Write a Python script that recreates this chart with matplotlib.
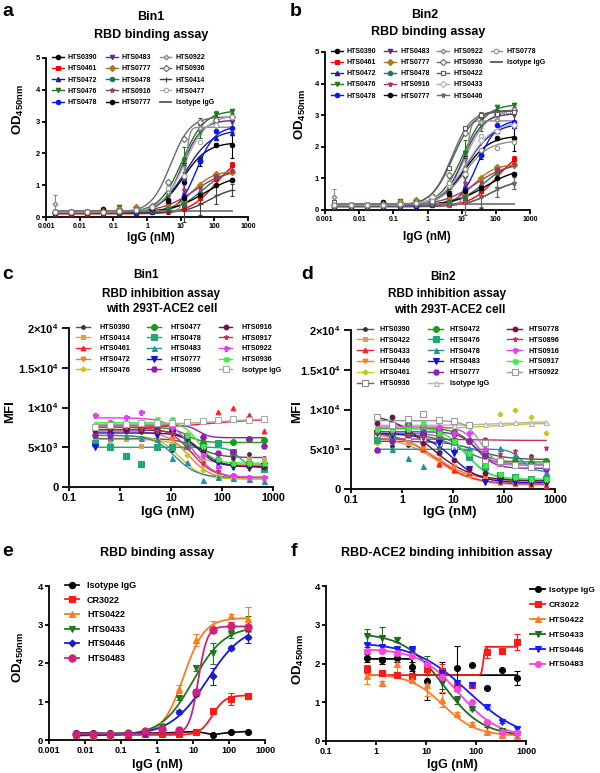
import numpy as np
import matplotlib
matplotlib.use('Agg')
import matplotlib.pyplot as plt
from matplotlib.lines import Line2D
from matplotlib.ticker import NullLocator

plt.rcParams['font.family'] = ['Liberation Sans', 'DejaVu Sans']
plt.rcParams['font.weight'] = 'bold'
plt.rcParams['mathtext.fontset'] = 'custom'
plt.rcParams['mathtext.rm'] = 'Liberation Sans:bold'
plt.rcParams['mathtext.it'] = 'Liberation Sans:bold'
plt.rcParams['mathtext.bf'] = 'Liberation Sans:bold'
plt.rcParams['axes.linewidth'] = 1.3

# ---------------------------------------------------------------- data
# panels a / b : RBD binding (OD450), 3-fold dilutions (nM)
conc_ab = [0.00188, 0.00564, 0.0169, 0.0508, 0.152, 0.457, 1.37, 4.12, 12.3, 37.0, 111.0, 333.0]

od_0390 = [0.15, 0.14, 0.15, 0.25, 0.20, 0.20, 0.24, 0.55, 1.10, 1.75, 2.27, 2.27]
od_0461 = [0.10, 0.10, 0.10, 0.12, 0.12, 0.14, 0.15, 0.20, 0.28, 0.60, 1.22, 1.62]
od_0472 = [0.12, 0.12, 0.13, 0.13, 0.15, 0.16, 0.20, 0.45, 1.25, 1.90, 2.50, 2.65]
od_0476 = [0.15, 0.15, 0.15, 0.16, 0.30, 0.25, 0.30, 0.70, 1.80, 2.70, 3.25, 3.32]
od_0478 = [0.12, 0.12, 0.12, 0.12, 0.12, 0.14, 0.15, 0.30, 0.65, 1.75, 2.70, 2.80]
od_0483 = [0.15, 0.15, 0.15, 0.16, 0.18, 0.22, 0.25, 0.50, 1.20, 2.90, 3.00, 3.00]
od_0777 = [0.15, 0.15, 0.15, 0.20, 0.25, 0.32, 0.30, 0.35, 0.50, 1.00, 1.35, 1.42]
od_0478b = [0.14, 0.14, 0.14, 0.15, 0.15, 0.18, 0.20, 0.25, 0.40, 0.75, 1.25, 1.15]
od_0916 = [0.15, 0.15, 0.15, 0.18, 0.20, 0.25, 0.30, 0.50, 0.85, 0.90, 1.30, 1.45]
od_0777b = [0.13, 0.13, 0.14, 0.20, 0.18, 0.18, 0.25, 0.50, 0.60, 0.70, 1.00, 1.15]
od_0922 = [0.40, 0.15, 0.15, 0.15, 0.18, 0.20, 0.30, 0.80, 1.30, 2.80, 2.85, 3.15]
od_0936 = [0.15, 0.15, 0.15, 0.15, 0.18, 0.22, 0.35, 1.10, 2.45, 3.00, 3.05, 3.15]
od_0414 = [0.12, 0.12, 0.12, 0.13, 0.14, 0.15, 0.18, 0.20, 0.25, 0.40, 0.70, 0.85]
od_0477 = [0.15, 0.15, 0.15, 0.16, 0.18, 0.22, 0.30, 0.90, 1.30, 2.35, 2.90, 3.15]
od_iso = [0.20, 0.20, 0.20, 0.20, 0.20, 0.20, 0.20, 0.20, 0.20, 0.20, 0.20, 0.20]
od_0422 = [0.25, 0.15, 0.15, 0.15, 0.18, 0.25, 0.45, 1.33, 2.60, 3.00, 3.05, 3.10]
od_0433 = [0.15, 0.15, 0.15, 0.15, 0.18, 0.22, 0.40, 0.80, 1.15, 2.20, 2.50, 2.70]
od_0446 = [0.12, 0.12, 0.12, 0.13, 0.14, 0.15, 0.18, 0.20, 0.25, 0.45, 0.70, 0.85]
od_0778 = [0.15, 0.15, 0.15, 0.16, 0.18, 0.22, 0.30, 0.85, 1.30, 1.90, 1.95, 2.15]

# error bars (SD) for the main binders, panels a/b
err_0390 = [0.03, 0.02, 0.02, 0.03, 0.02, 0.02, 0.05, 0.10, 0.60, 0.15, 0.05, 0.40]
err_0461 = [0.02, 0.02, 0.02, 0.02, 0.02, 0.02, 0.03, 0.05, 0.10, 0.15, 0.10, 0.10]
err_0476 = [0.02, 0.02, 0.02, 0.02, 0.05, 0.02, 0.05, 0.10, 0.40, 0.20, 0.08, 0.06]
err_0483 = [0.02, 0.02, 0.02, 0.02, 0.02, 0.02, 0.05, 0.10, 0.45, 0.20, 0.15, 0.20]
err_0922 = [0.28, 0.02, 0.02, 0.02, 0.02, 0.02, 0.05, 0.20, 0.30, 0.20, 0.20, 0.10]
err_0414 = [0.02, 0.02, 0.02, 0.02, 0.02, 0.02, 0.05, 0.10, 0.40, 0.35, 0.30, 0.20]

# fitted curve parameters (low-conc value, high-conc value, EC50 nM, hill)
fit_ab = {
    'HTS0390': (0.15, 2.35, 12, 1.2), 'HTS0461': (0.10, 2.0, 110, 1.1),
    'HTS0472': (0.12, 2.75, 14, 1.1), 'HTS0476': (0.15, 3.35, 11, 1.3),
    'HTS0478': (0.12, 2.85, 30, 1.6), 'HTS0483': (0.15, 3.05, 11, 1.5),
    'HTS0777': (0.15, 1.45, 22, 1.4), 'HTS0478b': (0.15, 1.55, 45, 1.1),
    'HTS0916': (0.15, 1.5, 25, 0.9), 'HTS0777b': (0.15, 1.35, 50, 0.9),
    'HTS0922': (0.2, 2.82, 14, 8.0), 'HTS0936': (0.15, 3.15, 5, 1.5),
    'HTS0414': (0.12, 0.95, 70, 1.2), 'HTS0477': (0.15, 3.2, 13, 1.3),
    'HTS0422': (0.15, 3.15, 5.5, 1.4), 'HTS0433': (0.15, 2.8, 14, 1.1),
    'HTS0446': (0.12, 0.95, 70, 1.2), 'HTS0778': (0.15, 2.2, 12, 1.2),
}

# panels c / d : MFI (x10^3), 2-fold dilutions (nM)
conc_cd = [0.325, 0.65, 1.3, 2.6, 5.2, 10.4, 20.8, 41.6, 83.3, 166.5, 333.0, 666.0]

c_0390 = [6.5, 6.2, 6.1, 6.2, 5.2, 4.7, 6.0, 4.5, 3.5, 3.7, 4.2, 3.7]
c_0414 = [5.8, 5.7, 6.0, 5.2, 6.0, 6.2, 5.0, 3.5, 2.6, 2.8, 3.5, 3.5]
c_0461 = [7.2, 7.4, 7.5, 7.3, 8.2, 7.6, 6.0, 6.5, 9.4, 10.0, 9.0, 7.0]
c_0472 = [6.8, 7.0, 7.0, 6.9, 6.5, 6.0, 5.0, 2.8, 1.8, 1.2, 1.1, 1.0]
c_0476 = [6.3, 6.5, 6.2, 6.0, 6.0, 5.3, 4.0, 2.2, 1.4, 1.1, 1.0, 1.0]
c_0477 = [7.5, 7.6, 7.6, 7.4, 7.2, 7.0, 6.0, 5.5, 5.5, 5.6, 6.0, 5.9]
c_0478 = [5.5, 5.0, 3.9, 2.9, 5.0, 5.0, 5.2, 5.0, 5.5, 4.4, 2.9, 2.3]
c_0483 = [6.5, 6.3, 6.4, 6.2, 6.0, 3.6, 3.2, 0.9, 1.3, 1.1, 1.0, 0.8]
c_0777 = [5.0, 6.5, 7.0, 7.0, 6.5, 6.8, 6.2, 4.5, 3.0, 2.5, 2.4, 2.6]
c_0896 = [6.6, 6.6, 7.2, 7.6, 7.6, 7.6, 8.2, 6.3, 4.3, 4.4, 6.0, 5.1]
c_0916 = [7.2, 7.3, 7.2, 7.0, 7.0, 7.0, 6.5, 4.5, 3.5, 3.0, 2.6, 2.5]
c_0917 = [7.5, 7.6, 7.5, 7.3, 7.0, 6.8, 5.0, 3.0, 2.0, 1.5, 1.2, 1.2]
c_0922 = [9.0, 8.2, 8.8, 9.4, 8.0, 7.5, 6.5, 4.0, 2.5, 1.5, 1.2, 1.2]
c_0936 = [7.8, 7.9, 8.0, 8.0, 8.6, 8.6, 6.6, 5.2, 3.5, 3.0, 3.0, 3.0]
c_iso = [7.5, 7.8, 7.9, 8.0, 8.0, 8.0, 8.2, 8.3, 8.4, 8.5, 8.4, 8.5]

fit_c = {
    'HTS0390': (6.1, 3.7, 35, 2), 'HTS0414': (6.0, 2.8, 25, 2),
    'HTS0461': (7.5, 8.5, 60, 1), 'HTS0472': (7.0, 1.0, 22, 2),
    'HTS0476': (6.5, 1.0, 15, 2), 'HTS0477': (7.5, 5.6, 20, 3),
    'HTS0478': (5.0, 2.4, 220, 4), 'HTS0483': (6.5, 1.2, 12, 2),
    'HTS0777': (6.8, 2.6, 35, 2.5), 'HTS0896': (7.8, 6.2, 35, 4),
    'HTS0916': (7.2, 2.5, 35, 2), 'HTS0917': (7.5, 1.2, 25, 2),
    'HTS0922': (8.7, 1.2, 25, 2), 'HTS0936': (8.1, 3.0, 35, 3),
    'Isotype IgG': (7.9, 8.6, 100, 1),
}

d_0390 = [6.0, 5.4, 5.5, 6.0, 5.3, 5.5, 4.8, 4.0, 3.6, 3.7, 4.2, 3.7]
d_0422 = [6.2, 6.0, 5.8, 4.9, 3.0, 2.3, 1.8, 1.2, 0.8, 0.6, 0.5, 0.5]
d_0433 = [7.0, 6.8, 6.6, 5.0, 3.1, 2.4, 2.0, 1.3, 1.0, 0.8, 0.6, 0.4]
d_0446 = [6.5, 6.4, 6.0, 5.1, 3.6, 2.8, 2.2, 1.5, 1.2, 1.0, 1.0, 1.0]
d_0461 = [5.8, 7.0, 6.5, 8.0, 8.4, 7.8, 7.0, 5.0, 9.4, 10.0, 9.0, 7.0]
d_0936 = [6.8, 6.6, 6.5, 6.2, 5.8, 5.2, 4.2, 3.6, 3.3, 3.2, 3.1, 3.2]
d_0472 = [7.2, 7.8, 8.2, 7.8, 7.6, 7.2, 6.0, 4.5, 3.6, 3.5, 3.3, 3.5]
d_0476 = [6.2, 6.8, 7.0, 7.0, 6.8, 6.0, 4.0, 2.8, 1.8, 1.5, 1.2, 1.2]
d_0478 = [5.0, 5.0, 3.9, 2.9, 5.0, 5.0, 5.2, 5.0, 5.2, 4.4, 2.9, 2.2]
d_0483 = [7.0, 6.8, 6.9, 6.6, 5.8, 4.5, 2.5, 0.9, 1.0, 0.9, 0.8, 0.8]
d_0777 = [4.9, 6.0, 6.8, 7.0, 7.2, 7.0, 6.0, 4.2, 3.4, 3.2, 2.9, 2.5]
d_iso = [7.8, 8.0, 8.0, 8.0, 8.0, 8.0, 8.2, 8.2, 8.3, 8.4, 8.3, 8.4]
d_0778 = [8.3, 9.0, 7.0, 5.8, 4.5, 3.6, 2.5, 2.0, 1.5, 1.3, 1.0, 1.0]
d_0896 = [7.0, 7.0, 6.8, 6.5, 6.5, 6.5, 8.2, 6.3, 4.4, 4.8, 4.0, 5.1]
d_0916 = [7.7, 7.5, 7.8, 7.9, 7.8, 7.0, 7.0, 5.0, 3.3, 3.2, 3.0, 2.9]
d_0917 = [7.5, 7.6, 7.6, 8.3, 7.0, 6.0, 4.5, 3.0, 1.9, 1.5, 1.2, 1.2]
d_0922 = [9.0, 8.0, 8.8, 9.4, 8.7, 8.6, 8.0, 5.8, 3.5, 3.0, 2.8, 3.0]

fit_d = {
    'HTS0390': (6.0, 3.7, 30, 1.5), 'HTS0422': (6.5, 0.5, 5, 1.2),
    'HTS0433': (7.2, 0.6, 4.5, 1.2), 'HTS0446': (7.0, 1.0, 4.5, 1.2),
    'HTS0461': (7.6, 8.3, 60, 1), 'HTS0936': (6.9, 3.1, 15, 1.5),
    'HTS0472': (7.6, 3.4, 25, 2.5), 'HTS0476': (7.0, 1.2, 20, 2),
    'HTS0478': (5.0, 2.2, 220, 4), 'HTS0483': (7.0, 0.8, 10, 1.6),
    'HTS0777': (7.2, 2.6, 30, 2.5), 'Isotype IgG': (8.0, 8.5, 100, 1),
    'HTS0778': (9.6, 1.0, 3.5, 1.1), 'HTS0896': (6.3, 6.1, 20, 1),
    'HTS0916': (7.8, 3.0, 30, 3), 'HTS0917': (7.7, 1.2, 18, 2),
    'HTS0922': (8.6, 3.0, 35, 3),
}

# panel e : RBD binding
conc_e = [0.00564, 0.0169, 0.0508, 0.152, 0.457, 1.37, 4.12, 12.3, 37.0, 111.0, 333.0]
e_iso = [0.18, 0.18, 0.17, 0.18, 0.18, 0.18, 0.20, 0.22, 0.14, 0.20, 0.22]
e_cr3022 = [0.12, 0.11, 0.11, 0.14, 0.15, 0.15, 0.16, 0.20, 0.75, 1.07, 1.15]
e_0422 = [0.12, 0.12, 0.14, 0.17, 0.22, 0.40, 1.32, 2.60, 2.95, 3.22, 3.13]
e_0433 = [0.12, 0.12, 0.12, 0.15, 0.20, 0.35, 1.10, 1.88, 2.25, 2.75, 2.92]
e_0446 = [0.12, 0.12, 0.12, 0.15, 0.18, 0.25, 0.73, 1.20, 1.65, 2.38, 2.67]
e_0483 = [0.16, 0.16, 0.16, 0.18, 0.23, 0.28, 0.27, 1.25, 2.85, 2.95, 2.93]
err_e_cr3022 = [0, 0, 0, 0, 0, 0, 0, 0.03, 0.05, 0.15, 0.08]
err_e_0422 = [0, 0, 0, 0, 0, 0.05, 0.10, 0.15, 0.15, 0.05, 0.33]
err_e_0433 = [0, 0, 0, 0, 0, 0, 0.05, 0.08, 0.28, 0.10, 0.30]
err_e_0446 = [0, 0, 0, 0, 0, 0, 0.05, 0.05, 0.22, 0.05, 0.15]
err_e_0483 = [0, 0, 0, 0, 0, 0, 0.05, 0.08, 0.08, 0.12, 0.05]
fit_e = {
    'CR3022': (0.13, 1.16, 35, 2.5), 'HTS0422': (0.13, 3.17, 5.5, 1.5),
    'HTS0433': (0.12, 2.95, 10, 1.0), 'HTS0446': (0.12, 3.0, 25, 0.85),
    'HTS0483': (0.16, 2.95, 14, 3.5),
}

# panel f : RBD-ACE2 binding inhibition
conc_f = [0.65, 1.3, 2.6, 5.2, 10.4, 20.8, 41.6, 83.3, 166.5, 333.0, 666.0]
f_iso = [2.15, 2.08, 2.13, 1.92, 1.55, 1.65, 1.88, 1.97, 1.38, 1.83, 1.62]
f_cr3022 = [1.85, 1.75, 1.70, 1.68, 1.87, 1.80, 1.42, 1.45, 2.30, 2.33, 2.55]
f_0422 = [1.68, 1.50, 1.98, 1.58, 1.45, 1.07, 0.70, 0.45, 0.23, 0.16, 0.14]
f_0433 = [2.70, 2.65, 2.60, 2.33, 1.95, 1.50, 1.05, 0.82, 0.40, 0.25, 0.18]
f_0446 = [2.47, 2.42, 2.38, 2.37, 1.98, 1.75, 1.50, 1.45, 0.88, 0.50, 0.30]
f_0483 = [2.33, 2.33, 2.28, 2.20, 2.00, 1.65, 1.35, 1.00, 0.50, 0.22, 0.20]
err_f_iso = [0.10, 0.10, 0.08, 0.12, 0.50, 0.40, 0.58, 0.0, 0.0, 0.0, 0.18]
err_f_cr3022 = [0.10, 0.08, 0.05, 0.05, 0.10, 0.20, 0.10, 0.0, 0.15, 0.0, 0.20]
err_f_0422 = [0.20, 0.05, 0.20, 0.05, 0.30, 0.20, 0.05, 0.03, 0.03, 0.03, 0.03]
err_f_0433 = [0.20, 0.28, 0.05, 0.05, 0.25, 0.15, 0.10, 0.03, 0.03, 0.03, 0.03]
err_f_0446 = [0.05, 0.05, 0.05, 0.05, 0.05, 0.05, 0.05, 0.03, 0.03, 0.03, 0.05]
err_f_0483 = [0.05, 0.05, 0.05, 0.05, 0.05, 0.05, 0.05, 0.03, 0.03, 0.03, 0.03]
fit_f = {
    'Isotype IgG': (2.12, 1.70, 5.5, 40), 'CR3022': (1.70, 2.43, 140, 25),
    'HTS0422': (1.73, 0.13, 22, 1.3), 'HTS0433': (2.78, 0.12, 22, 1.1),
    'HTS0446': (2.55, 0.0, 70, 0.8), 'HTS0483': (2.38, 0.10, 45, 1.1),
}

xt_ab = [0.001, 0.01, 0.1, 1, 10, 100, 1000]
xt_ab_lab = ['0.001', '0.01', '0.1', '1', '10', '100', '1000']
xt_cd = [0.1, 1, 10, 100, 1000]
xt_cd_lab = ['0.1', '1', '10', '100', '1000']
yt_cd = [0, 5, 10, 15, 20]
yt_cd_lab = ['0', '5×10$^{3}$', '1×10$^{4}$', '1.5×10$^{4}$', '2×10$^{4}$']

# ---------------------------------------------------------------- helpers
W, H = 600, 773
fig = plt.figure(figsize=(W / 100, H / 100), dpi=100)


def add_ax(l, t, r, b):
    return fig.add_axes([l / W, 1 - b / H, (r - l) / W, (b - t) / H])


def ftext(x, y, s, **kw):
    kw.setdefault('ha', 'center')
    kw.setdefault('va', 'center')
    kw.setdefault('fontweight', 'bold')
    fig.text(x / W, 1 - y / H, s, **kw)


def fourpl(x, y0, y1, ec50, hill):
    return y0 + (y1 - y0) / (1 + (ec50 / x) ** hill)


def style_ax(ax, xlim, ylim, xt, xtl, yt, ytl, fsx, fsy, ytl_len=3, ypad=1.5):
    ax.set_xscale('log')
    ax.set_xlim(*xlim)
    ax.set_ylim(*ylim)
    for s in ('top', 'right'):
        ax.spines[s].set_visible(False)
    ax.set_xticks(xt)
    ax.set_xticklabels(xtl, fontsize=fsx, fontweight='bold')
    ax.xaxis.set_minor_locator(NullLocator())
    ax.set_yticks(yt)
    ax.set_yticklabels(ytl, fontsize=fsy, fontweight='bold')
    ax.tick_params(axis='x', direction='out', length=3, width=1.3, pad=1.0)
    ax.tick_params(axis='y', direction='out', length=ytl_len, width=1.3, pad=ypad)
    ax.patch.set_alpha(0)


def draw_series(ax, conc, vals, fit, color, marker, ms, mfc=None, lw=1.0,
                err=None, lcolor=None, mew=0.8, cap=2.5):
    lc = lcolor or color
    if fit is not None:
        xs = np.logspace(np.log10(min(conc)), np.log10(max(conc)), 400)
        ax.plot(xs, fourpl(xs, *fit), color=lc, lw=lw, zorder=2)
    if marker is None:
        return Line2D([], [], color=lc, lw=lw + 0.3)
    if err is not None:
        ax.errorbar(conc, vals, yerr=err, fmt='none', ecolor=color, elinewidth=0.8,
                    capsize=cap, capthick=0.8, zorder=3, clip_on=False)
    ax.plot(conc, vals, ls='none', marker=marker, ms=ms, color=color,
            mfc=mfc if mfc else color, mew=mew, zorder=4, clip_on=False)
    return Line2D([], [], color=lc, lw=lw, marker=marker, ms=ms,
                  mfc=mfc if mfc else color, mec=color, mew=mew)


def legend_px(ax, handles, labels, x, y, ncol, fs, hl, htp, cs, ls):
    ax.legend(handles, labels, loc='upper left', bbox_to_anchor=(x / W, 1 - y / H),
              bbox_transform=fig.transFigure, ncol=ncol, frameon=False,
              borderpad=0, borderaxespad=0, handlelength=hl, handletextpad=htp,
              columnspacing=cs, labelspacing=ls,
              prop={'weight': 'bold', 'size': fs})


# ---------------------------------------------------------------- a & b
ab_style = {
    'HTS0390': ('#000000', 'o', None), 'HTS0461': ('#ff0000', 's', None),
    'HTS0472': ('#1f1f8f', '^', None), 'HTS0476': ('#1e7a1e', 'v', None),
    'HTS0478': ('#0a14ff', 'o', None), 'HTS0483': ('#5b2d80', 'v', None),
    'HTS0777': ('#b2761f', 'D', None), 'HTS0478b': ('#177a58', 'o', None),
    'HTS0916': ('#a8336b', '*', None), 'HTS0777b': ('#000000', 'o', None),
    'HTS0922': ('#8a8a8a', 'P', 'white'), 'HTS0936': ('#6a6a6a', 'D', 'white'),
    'HTS0414': ('#404040', '+', None), 'HTS0477': ('#a8a8a8', 'o', 'white'),
    'HTS0422': ('#5a5a5a', 's', 'white'), 'HTS0433': ('#b0b0b0', 'D', 'white'),
    'HTS0446': ('#6a6a6a', '*', None), 'HTS0778': ('#909090', 'o', 'white'),
}
ab_data = {
    'HTS0390': od_0390, 'HTS0461': od_0461, 'HTS0472': od_0472, 'HTS0476': od_0476,
    'HTS0478': od_0478, 'HTS0483': od_0483, 'HTS0777': od_0777, 'HTS0478b': od_0478b,
    'HTS0916': od_0916, 'HTS0777b': od_0777b, 'HTS0922': od_0922, 'HTS0936': od_0936,
    'HTS0414': od_0414, 'HTS0477': od_0477, 'HTS0422': od_0422, 'HTS0433': od_0433,
    'HTS0446': od_0446, 'HTS0778': od_0778,
}
ab_err = {'HTS0390': err_0390, 'HTS0461': err_0461, 'HTS0476': err_0476,
          'HTS0483': err_0483, 'HTS0922': err_0922, 'HTS0414': err_0414,
          'HTS0446': err_0414}
a_keys = ['HTS0390', 'HTS0461', 'HTS0472', 'HTS0476', 'HTS0478',
          'HTS0483', 'HTS0777', 'HTS0478b', 'HTS0916', 'HTS0777b',
          'HTS0922', 'HTS0936', 'HTS0414', 'HTS0477', 'ISO']
b_keys = ['HTS0390', 'HTS0461', 'HTS0472', 'HTS0476', 'HTS0478',
          'HTS0483', 'HTS0777', 'HTS0478b', 'HTS0916', 'HTS0777b',
          'HTS0922', 'HTS0936', 'HTS0422', 'HTS0433', 'HTS0446',
          'HTS0778', 'ISO']
b_extra_plot = ['HTS0414', 'HTS0477']


def lab(k):
    return 'Isotype IgG' if k == 'ISO' else k.rstrip('b')


def binding_panel(ax, keys, extra):
    handles = []
    for k in extra:
        c, m, mfc = ab_style[k]
        draw_series(ax, conc_ab, ab_data[k], fit_ab[k], c, m, 3.2, mfc,
                    err=ab_err.get(k), cap=1.5)
    for k in keys:
        if k == 'ISO':
            ax.plot(conc_ab, od_iso, color='#777777', lw=1.3, zorder=2)
            handles.append(Line2D([], [], color='#555555', lw=1.3))
            continue
        c, m, mfc = ab_style[k]
        handles.append(draw_series(ax, conc_ab, ab_data[k], fit_ab[k], c, m,
                                   3.6 if m in ('*', '+') else 3.2, mfc,
                                   err=ab_err.get(k), cap=1.5))
    return handles


ax_a = add_ax(46, 58, 248, 217)
ha = binding_panel(ax_a, a_keys, [])
style_ax(ax_a, (0.001, 1000), (0, 5), xt_ab, xt_ab_lab, [0, 1, 2, 3, 4, 5],
         ['0', '1', '2', '3', '4', '5'], 5, 5.5)
legend_px(ax_a, ha, [lab(k) for k in a_keys], 52, 54, 3, 5, 1.7, 0.6, 1.2, 0.62)

ax_b = add_ax(325, 52, 530, 210)
hb = binding_panel(ax_b, b_keys, b_extra_plot)
blank = Line2D([], [], color='none', lw=0)
hb_full = hb + [blank, blank, blank]
lb_full = [lab(k) for k in b_keys] + ['', '', '']
style_ax(ax_b, (0.001, 1000), (0, 5), xt_ab, xt_ab_lab, [0, 1, 2, 3, 4, 5],
         ['0', '1', '2', '3', '4', '5'], 5, 5.5)
legend_px(ax_b, hb_full, lb_full, 331, 48, 4, 5, 1.7, 0.6, 1.1, 0.6)
ax_b.text(200, 3.1, 'Legend', fontsize=5, color='#555555', fontweight='normal',
          ha='center', va='center')

# ---------------------------------------------------------------- c & d
cd_style = {
    'HTS0390': ('#333333', 'o', None, 2.6, '#555555'),
    'HTS0414': ('#d8a05c', 's', None, 3.2, None),
    'HTS0422': ('#d8a05c', 's', None, 3.2, None),
    'HTS0461': ('#ff2222', '^', None, 3.4, None),
    'HTS0433': ('#ff2222', '^', None, 3.4, None),
    'HTS0472': ('#ff7a2a', 'v', None, 3.4, None),
    'HTS0446': ('#ff7a2a', 'v', None, 3.4, None),
    'HTS0476': ('#c9c41a', 'P', None, 3.2, None),
    'HTS0461d': ('#c9c41a', 'P', None, 3.2, None),
    'HTS0477': ('#1c9a1c', 'o', None, 4.2, None),
    'HTS0472d': ('#1c9a1c', 'o', None, 4.2, None),
    'HTS0478': ('#21a676', 's', None, 4.0, None),
    'HTS0476d': ('#21a676', 's', None, 4.0, None),
    'HTS0483': ('#2a8ea3', '^', None, 3.6, None),
    'HTS0478d': ('#2a8ea3', '^', None, 3.6, None),
    'HTS0777': ('#1414d8', 'v', None, 3.8, None),
    'HTS0483d': ('#1414d8', 'v', None, 3.8, None),
    'HTS0896': ('#8a22b0', 'H', None, 4.2, None),
    'HTS0777d': ('#8a22b0', 'H', None, 4.2, None),
    'HTS0916': ('#6a1444', 'o', None, 3.4, None),
    'HTS0778': ('#6a1444', 'o', None, 3.4, None),
    'HTS0917': ('#c4305c', '*', None, 3.6, None),
    'HTS0896d': ('#c4305c', '*', None, 3.6, None),
    'HTS0922': ('#e040f0', 'P', None, 3.6, None),
    'HTS0916d': ('#e040f0', 'P', None, 3.6, None),
    'HTS0936': ('#3cf03c', 'X', None, 3.6, None),
    'HTS0917d': ('#3cf03c', 'X', None, 3.6, None),
    'ISOc': ('#a8a8a8', 's', 'white', 4.0, None),
    'ISOd': ('#b4b4b4', '^', 'white', 3.6, None),
    'HTS0936d': ('#8a8a8a', 's', 'white', 4.0, '#666666'),
    'HTS0922d': ('#9a9a9a', 's', 'white', 4.6, None),
}

c_order = [('HTS0390', c_0390), ('HTS0414', c_0414), ('HTS0461', c_0461),
           ('HTS0472', c_0472), ('HTS0476', c_0476), ('HTS0477', c_0477),
           ('HTS0478', c_0478), ('HTS0483', c_0483), ('HTS0777', c_0777),
           ('HTS0896', c_0896), ('HTS0916', c_0916), ('HTS0917', c_0917),
           ('HTS0922', c_0922), ('HTS0936', c_0936), ('ISOc', c_iso)]
d_order = [('HTS0390', d_0390), ('HTS0422', d_0422), ('HTS0433', d_0433),
           ('HTS0446', d_0446), ('HTS0461d', d_0461), ('HTS0936d', d_0936),
           ('HTS0472d', d_0472), ('HTS0476d', d_0476), ('HTS0478d', d_0478),
           ('HTS0483d', d_0483), ('HTS0777d', d_0777), ('ISOd', d_iso),
           ('HTS0778', d_0778), ('HTS0896d', d_0896), ('HTS0916d', d_0916),
           ('HTS0917d', d_0917), ('HTS0922d', d_0922)]


def labcd(k):
    if k.startswith('ISO'):
        return 'Isotype IgG'
    return k[:7]


def inhibition_panel(ax, order, fits):
    handles, labels = [], []
    for k, vals in order:
        c, m, mfc, ms, lc = cd_style[k]
        name = labcd(k)
        handles.append(draw_series(ax, conc_cd, vals, fits[name], c, m, ms, mfc,
                                   lw=1.0, lcolor=lc))
        labels.append(name)
    return handles, labels


ax_c = add_ax(69, 328, 273, 487)
hc, lc_ = inhibition_panel(ax_c, c_order, fit_c)
style_ax(ax_c, (0.1, 1000), (0, 20), xt_cd, xt_cd_lab, yt_cd, yt_cd_lab, 7.8, 8,
         ytl_len=5, ypad=2.5)
legend_px(ax_c, hc, lc_, 76, 324, 3, 5.2, 1.9, 1.3, 2.4, 0.5)

ax_d = add_ax(351, 330, 555, 489)
hd, ld_ = inhibition_panel(ax_d, d_order, fit_d)
style_ax(ax_d, (0.1, 1000), (0, 20), xt_cd, xt_cd_lab, yt_cd, yt_cd_lab, 7.8, 8,
         ytl_len=5, ypad=2.5)
legend_px(ax_d, hd, ld_, 357, 326, 3, 5.2, 2.2, 0.9, 2.4, 0.52)

# ---------------------------------------------------------------- e
ax_e = add_ax(49, 586, 265, 740)
he = []
draw_series(ax_e, conc_e, e_iso, None, '#000000', 'o', 4.3)
ax_e.plot(conc_e, e_iso, color='#000000', lw=1.2, zorder=2)
he.append(Line2D([], [], color='#000000', lw=1.2, marker='o', ms=4.3))
e_sets = [('CR3022', e_cr3022, err_e_cr3022, '#ff1a1a', 's', 4.3),
          ('HTS0422', e_0422, err_e_0422, '#ff7a22', '^', 4.6),
          ('HTS0433', e_0433, err_e_0433, '#1f7a1f', 'v', 4.6),
          ('HTS0446', e_0446, err_e_0446, '#1a1ad0', 'D', 3.5),
          ('HTS0483', e_0483, err_e_0483, '#cc2277', 'o', 5.2)]
for name, vals, err, c, m, ms in e_sets:
    he.append(draw_series(ax_e, conc_e, vals, fit_e[name], c, m, ms, err=err, lw=1.3))
style_ax(ax_e, (0.001, 1000), (0, 4), xt_ab, xt_ab_lab, [0, 1, 2, 3, 4],
         ['0', '1', '2', '3', '4'], 6.5, 6.8)
legend_px(ax_e, he, ['Isotype IgG'] + [s[0] for s in e_sets], 65, 581, 1, 6.5,
          1.6, 0.85, 1.0, 0.62)

# ---------------------------------------------------------------- f
ax_f = add_ax(326, 586, 526, 741)
hf = []
f_sets = [('Isotype IgG', f_iso, err_f_iso, '#000000', 'o', 4.3),
          ('CR3022', f_cr3022, err_f_cr3022, '#ff1a1a', 's', 4.3),
          ('HTS0422', f_0422, err_f_0422, '#ff7a22', '^', 4.3),
          ('HTS0433', f_0433, err_f_0433, '#1f6a1f', 'v', 4.3),
          ('HTS0446', f_0446, err_f_0446, '#1a1aff', 'v', 4.3),
          ('HTS0483', f_0483, err_f_0483, '#ff44dd', 'o', 4.3)]
for name, vals, err, c, m, ms in f_sets:
    hf.append(draw_series(ax_f, conc_f, vals, fit_f[name], c, m, ms, err=err, lw=1.3))
style_ax(ax_f, (0.1, 1000), (0, 4), xt_cd, xt_cd_lab, [0, 1, 2, 3, 4],
         ['0', '1', '2', '3', '4'], 6.5, 6.8)
legend_px(ax_f, hf, [s[0] for s in f_sets], 530, 586, 1, 6.0, 1.8, 0.45, 1.0, 0.85)

# ---------------------------------------------------------------- text
ftext(8, 12, 'a', fontsize=14)
ftext(296, 12, 'b', fontsize=14)
ftext(8, 274, 'c', fontsize=14)
ftext(307, 274, 'd', fontsize=14)
ftext(8, 551, 'e', fontsize=14)
ftext(294, 551, 'f', fontsize=14)

ftext(151, 17, 'Bin1', fontsize=9)
ftext(151, 35, 'RBD binding assay', fontsize=9)
ftext(425, 15, 'Bin2', fontsize=9)
ftext(428, 32, 'RBD binding assay', fontsize=9)
ftext(146, 275, 'Bin1', fontsize=8.5)
ftext(161, 294, 'RBD inhibition assay', fontsize=8.5)
ftext(162, 309, 'with 293T-ACE2 cell', fontsize=8.5)
ftext(443, 277, 'Bin2', fontsize=8.5)
ftext(447, 294, 'RBD inhibition assay', fontsize=8.5)
ftext(450, 310, 'with 293T-ACE2 cell', fontsize=8.5)
ftext(157, 553, 'RBD binding assay', fontsize=9)
ftext(447, 553, 'RBD-ACE2 binding inhibition assay', fontsize=9)

ftext(151, 238, 'IgG (nM)', fontsize=8.5)
ftext(427, 237, 'IgG (nM)', fontsize=8.5)
ftext(168, 512, 'IgG (nM)', fontsize=9.5)
ftext(450, 512, 'IgG (nM)', fontsize=9.5)
ftext(157, 765, 'IgG (nM)', fontsize=9)
ftext(452, 765, 'IgG (nM)', fontsize=9)

od_lab = 'OD$_{\\mathrm{450nm}}$'
ftext(18, 110, od_lab, fontsize=9.5, rotation=90)
ftext(300, 115, od_lab, fontsize=9.5, rotation=90)
ftext(10, 412, 'MFI', fontsize=9.5, rotation=90)
ftext(297, 412, 'MFI', fontsize=9.5, rotation=90)
ftext(18, 658, od_lab, fontsize=9.5, rotation=90)
ftext(298, 660, od_lab, fontsize=9.5, rotation=90)

fig.savefig('out.png', dpi=100)
